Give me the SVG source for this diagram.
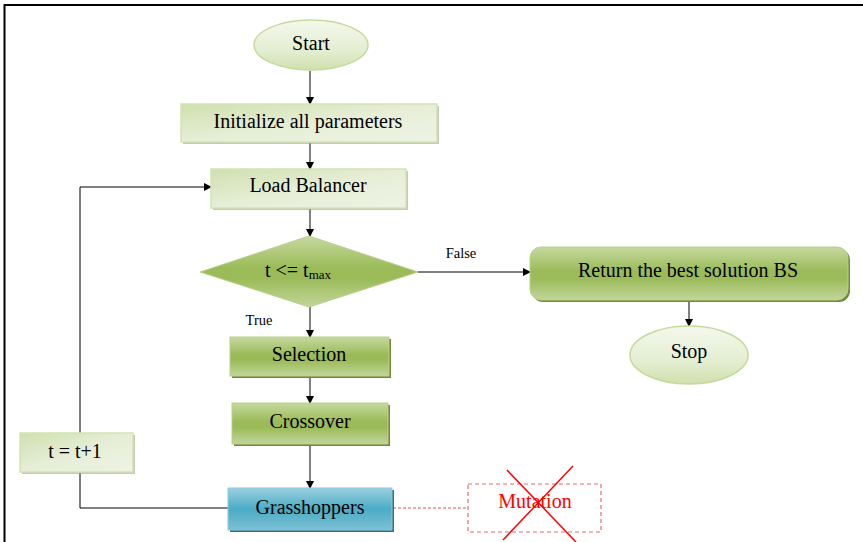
<svg xmlns="http://www.w3.org/2000/svg" width="863" height="542" viewBox="0 0 863 542">
<defs>
<linearGradient id="lg" x1="0" y1="0" x2="1" y2="1">
<stop offset="0" stop-color="#cfe0ae"/><stop offset="0.5" stop-color="#e6eed6"/><stop offset="1" stop-color="#eef3e4"/>
</linearGradient>
<linearGradient id="le" x1="0" y1="0" x2="0" y2="1">
<stop offset="0" stop-color="#f4f8ec"/><stop offset="0.6" stop-color="#e4eed2"/><stop offset="1" stop-color="#cfe0ae"/>
</linearGradient>
<linearGradient id="dg" x1="0" y1="0" x2="0" y2="1">
<stop offset="0" stop-color="#c6d9a0"/><stop offset="0.45" stop-color="#9bbb59"/><stop offset="0.6" stop-color="#9bbb59"/><stop offset="1" stop-color="#c2d69a"/>
</linearGradient>
<linearGradient id="bg" x1="0" y1="0" x2="0" y2="1">
<stop offset="0" stop-color="#9bd0df"/><stop offset="0.5" stop-color="#4bacc6"/><stop offset="1" stop-color="#7cc0d3"/>
</linearGradient>
<marker id="ah" markerWidth="8" markerHeight="8" refX="7" refY="4" orient="auto" markerUnits="userSpaceOnUse">
<path d="M0,0 L8,4 L0,8 Z" fill="#000"/>
</marker>
<style>
text{font-family:"Liberation Serif","Times New Roman",serif;fill:#000;text-anchor:middle}
.t{font-size:20px}
.s{font-size:14.5px}
.ln{stroke:#000;stroke-width:1;fill:none}
.light{fill:url(#lg);stroke:#d3e3b3;stroke-width:1.5}
.ell{fill:url(#le);stroke:#c5da9c;stroke-width:1.5}
.dark{fill:url(#dg);stroke:#b9d08a;stroke-width:1}
.blue{fill:url(#bg);stroke:#8ccbdc;stroke-width:1}
.sh{fill:#9aa888;opacity:0.6}
.dsh{fill:#6e8a3a}
.bsh{fill:#2f7386}
</style>
</defs>
<rect x="0" y="0" width="863" height="542" fill="#fff"/>
<path d="M4.5,542 V5 H863" fill="none" stroke="#000" stroke-width="2"/>

<g id="connectors">
<line class="ln" x1="310" y1="71" x2="310" y2="104" marker-end="url(#ah)"/>
<line class="ln" x1="310" y1="143" x2="310" y2="169" marker-end="url(#ah)"/>
<line class="ln" x1="310" y1="209" x2="310" y2="236" marker-end="url(#ah)"/>
<line class="ln" x1="310" y1="307" x2="310" y2="337" marker-end="url(#ah)"/>
<line class="ln" x1="310" y1="377" x2="310" y2="403" marker-end="url(#ah)"/>
<line class="ln" x1="310" y1="445" x2="310" y2="488" marker-end="url(#ah)"/>
<line class="ln" x1="418" y1="272" x2="530" y2="272" marker-end="url(#ah)"/>
<line class="ln" x1="689" y1="301" x2="689" y2="326" marker-end="url(#ah)"/>
<polyline class="ln" points="228,508 80,508 80,472"/>
<polyline class="ln" points="80,433 80,187 211,187" marker-end="url(#ah)"/>
<line x1="393" y1="508" x2="468" y2="508" stroke="#e05050" stroke-width="1" stroke-dasharray="3,2"/>
<text class="s" x="461" y="258">False</text>
<text class="s" x="259" y="325">True</text>
</g>

<g id="start">
<ellipse class="ell" cx="311" cy="45" rx="57" ry="25"/>
<text class="t" x="311" y="50">Start</text>
</g>

<g id="init">
<rect class="sh" x="183" y="106" width="256" height="38"/>
<rect class="light" x="181" y="104" width="256" height="38"/>
<text class="t" x="308" y="128">Initialize all parameters</text>
</g>

<g id="load">
<rect class="sh" x="213" y="171" width="195" height="39"/>
<rect class="light" x="211" y="169" width="195" height="39"/>
<text class="t" x="308" y="192">Load Balancer</text>
</g>

<g id="decision">
<polygon class="dark" points="309,236 418,272 309,307 200,272"/>
<text class="t" x="298" y="277">t &lt;= t<tspan font-size="13" dy="2">max</tspan></text>
</g>

<g id="selection">
<rect class="dsh" x="232" y="339" width="159" height="39"/>
<rect class="dark" x="230" y="337" width="159" height="39"/>
<text class="t" x="309" y="361">Selection</text>
</g>

<g id="crossover">
<rect class="dsh" x="234" y="405" width="156" height="41"/>
<rect class="dark" x="232" y="403" width="156" height="41"/>
<text class="t" x="310" y="428">Crossover</text>
</g>

<g id="grasshoppers">
<rect class="bsh" x="230" y="490" width="164" height="42"/>
<rect class="blue" x="228" y="488" width="164" height="42"/>
<text class="t" x="310" y="514">Grasshoppers</text>
</g>

<g id="increment">
<rect class="sh" x="22" y="435" width="113" height="39"/>
<rect class="light" x="20" y="433" width="113" height="39"/>
<text class="t" x="75" y="458">t = t+1</text>
</g>

<g id="return">
<rect class="dsh" x="532" y="249" width="318" height="53" rx="11"/>
<rect class="dark" x="530" y="247" width="318" height="53" rx="11"/>
<text class="t" x="688" y="277">Return the best solution BS</text>
</g>

<g id="stop">
<ellipse class="ell" cx="689" cy="355" rx="59" ry="29"/>
<text class="t" x="689" y="358">Stop</text>
</g>

<g id="mutation">
<rect x="468" y="484" width="133" height="48" fill="none" stroke="#e07070" stroke-width="1.2" stroke-dasharray="4,3"/>
<text x="535" y="508" style="font-size:20px;fill:#ff0000">Mutation</text>
<line x1="507" y1="470" x2="576" y2="542" stroke="#ff0000" stroke-width="1.5"/>
<line x1="573" y1="466" x2="503" y2="540" stroke="#ff0000" stroke-width="1.5"/>
</g>
</svg>
